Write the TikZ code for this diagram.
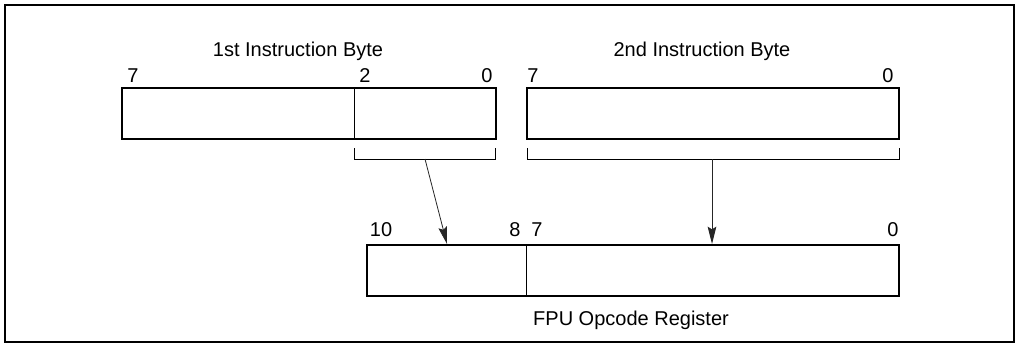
\documentclass[tikz,border=0pt]{standalone}
\usepackage{fontspec}
\setmainfont{Liberation Sans}
\usetikzlibrary{arrows.meta}
\begin{document}
\begin{tikzpicture}[x=0.75pt,y=-0.75pt,
  reg/.style={draw=black,line width=1.5pt,minimum height=51*0.75pt,inner sep=0pt,outer sep=0pt},
  thin/.style={draw=black,line width=0.75pt},
  lbl/.style={anchor=base,inner sep=0pt,font=\fontsize{15}{17}\selectfont},
  arr/.style={draw=black!85,line width=0.6pt,-{Stealth[length=13pt,width=6.5pt,inset=2pt]}}]
\useasboundingbox (0,0) rectangle (1016,343);
\node[draw=black,line width=1.5pt,minimum width=1008.5*0.75pt,minimum height=337*0.75pt,inner sep=0pt] (frame) at (509.25,173) {};
% registers
\node[reg,minimum width=374*0.75pt] (byte1) at (309,113.5) {};
\node[reg,minimum width=372*0.75pt] (byte2) at (713,113.5) {};
\node[reg,minimum width=532*0.75pt] (fpu) at (633,270.5) {};
\draw[thin] (354,88) -- (354,139);
\draw[thin] (526,245) -- (526,296);
% labels
\node[lbl] (t1) at (298,56) {1st Instruction Byte};
\node[lbl] (t2) at (702,56) {2nd Instruction Byte};
\node[lbl] (t3) at (631,325) {FPU Opcode Register};
\node[lbl] (a7) at (133,82) {7};
\node[lbl] (a2) at (365,82) {2};
\node[lbl] (a0) at (487,82) {0};
\node[lbl] (b7) at (533,82) {7};
\node[lbl] (b0) at (888,82) {0};
\node[lbl] (c10) at (381,236) {10};
\node[lbl] (c8) at (515,236) {8};
\node[lbl] (c7) at (537,236) {7};
\node[lbl] (c0) at (893,236) {0};
% brackets
\draw[thin] (354,148) -- (354,159) -- (495,159) -- (495,148);
\draw[thin] (527,148) -- (527,159) -- (899,159) -- (899,148);
\coordinate (s1) at (425,159);
\coordinate (s2) at (712,159);
\coordinate (e1) at (447,244);
\coordinate (e2) at (712,244);
\draw[arr] (s1) -- (e1);
\draw[arr,line width=0.75pt] (s2) -- (e2);
\end{tikzpicture}
\end{document}
